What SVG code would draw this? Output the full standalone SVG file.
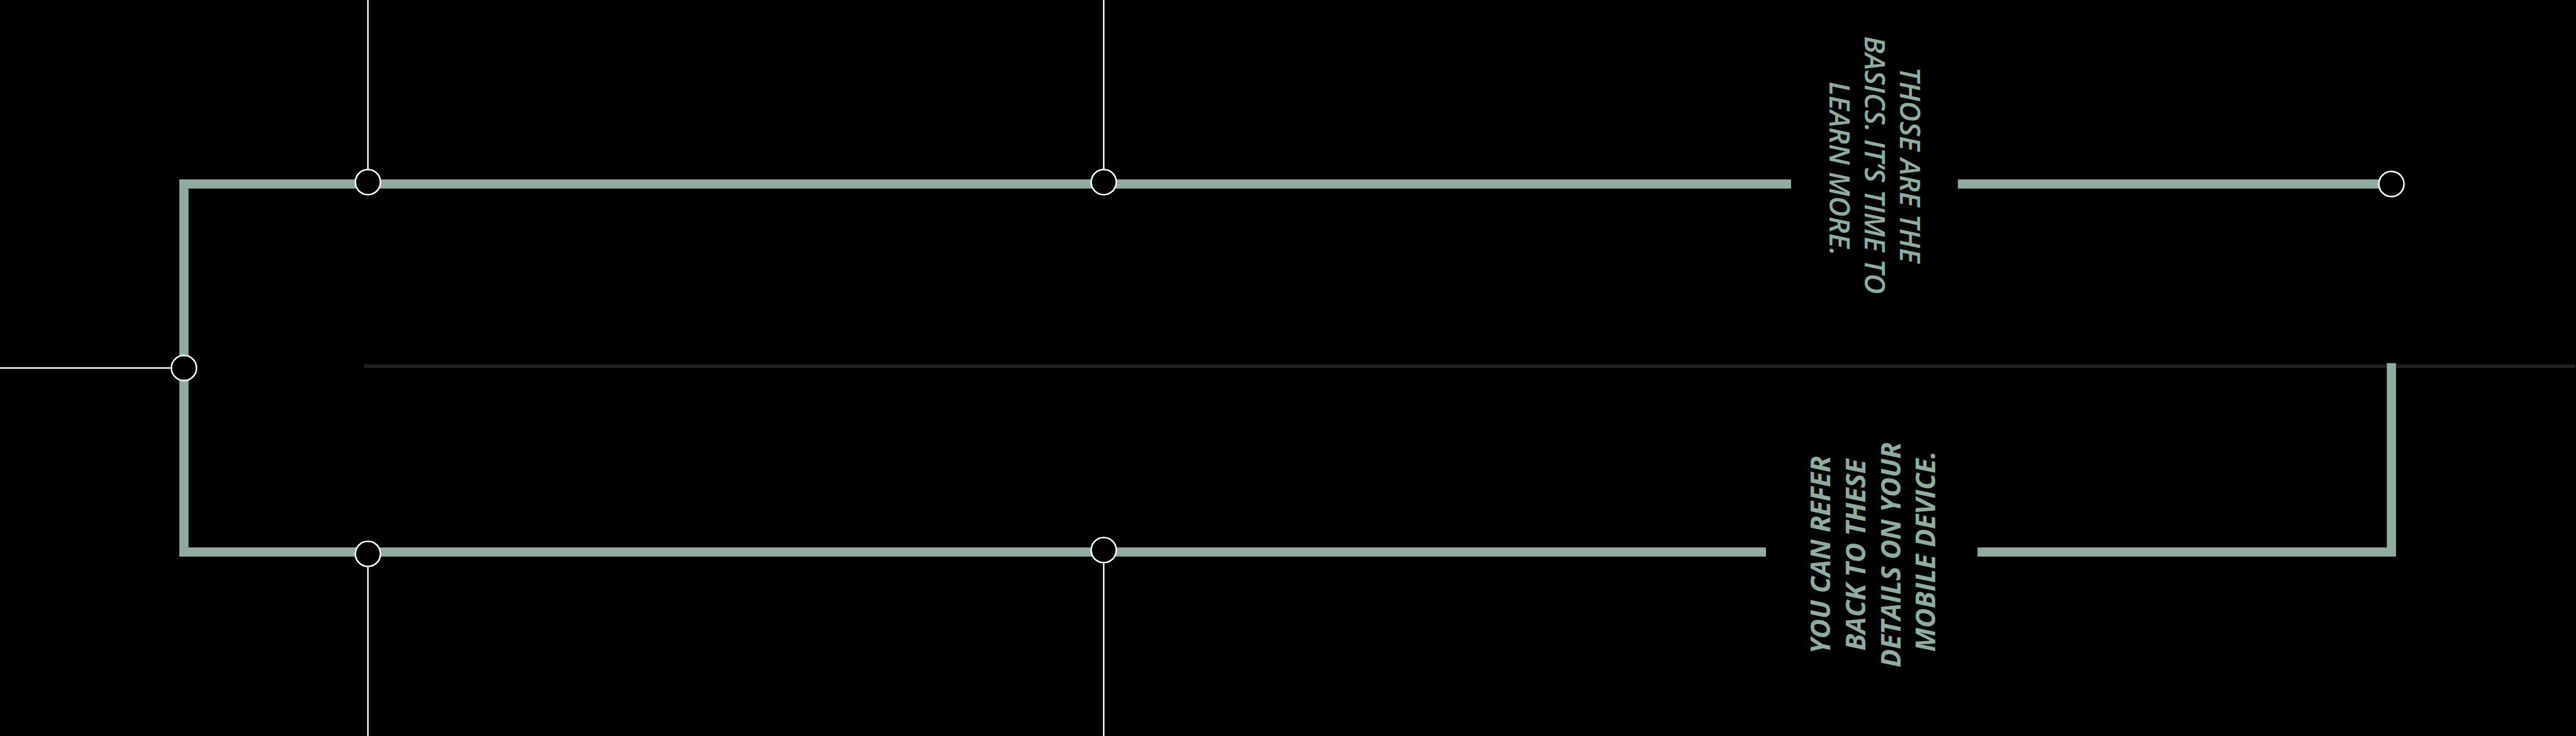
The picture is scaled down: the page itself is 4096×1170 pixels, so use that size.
<svg xmlns="http://www.w3.org/2000/svg" width="4096" height="1170" viewBox="0 0 4096 1170">
  <style>
    .bar { fill: none; stroke: #8fac9f; stroke-width: 15; stroke-linejoin: miter; stroke-linecap: butt; }
    .thin { stroke: #ffffff; stroke-width: 2.5; fill: none; }
    .dot { fill: #000000; stroke: #ffffff; stroke-width: 2.6; }
    .lbl { font-family: "Open Sans", "Noto Sans", sans-serif; font-style: italic; fill: #8fac9f; text-anchor: middle; }
  </style>
  <rect width="4096" height="1170" fill="#000000"/>
  <g transform="scale(0.975)">
    <g id="connectors">
      <line x1="594" y1="597" x2="4200" y2="597" stroke="#1f1f1f" stroke-width="6"/>
      <line class="thin" x1="600" y1="0" x2="600" y2="276"/>
      <line class="thin" x1="1800" y1="0" x2="1800" y2="276"/>
      <line class="thin" x1="600" y1="925" x2="600" y2="1200"/>
      <line class="thin" x1="1800" y1="919" x2="1800" y2="1200"/>
      <line class="thin" x1="0" y1="600" x2="279" y2="600"/>
      <path class="bar" d="M2921 300 H300 V900 H2880"/>
      <path class="bar" d="M3193 300 H3900"/>
      <path class="bar" d="M3225 900 H3900 V592"/>
    </g>
    <g id="node-left"><circle class="dot" cx="300" cy="600" r="20.5"/></g>
    <g id="node-top-1"><circle class="dot" cx="600" cy="297" r="20.5"/></g>
    <g id="node-top-2"><circle class="dot" cx="1800" cy="297" r="20.5"/></g>
    <g id="node-top-3"><circle class="dot" cx="3900" cy="300" r="20.5"/></g>
    <g id="node-bottom-1"><circle class="dot" cx="600" cy="903" r="20.5"/></g>
    <g id="node-bottom-2"><circle class="dot" cx="1800" cy="897" r="20.5"/></g>
    <g id="label-top" transform="translate(3098 275) rotate(90)">
      <text class="lbl" font-size="46" font-weight="600">
        <tspan x="0" y="0">THOSE ARE THE</tspan>
        <tspan x="0" y="57">BASICS. IT’S TIME TO</tspan>
        <tspan x="0" y="114">LEARN MORE.</tspan>
      </text>
    </g>
    <g id="label-bottom" transform="translate(2985 899) rotate(-90)">
      <text class="lbl" font-size="44" font-weight="700">
        <tspan x="0" y="0">YOU CAN REFER</tspan>
        <tspan x="0" y="57">BACK TO THESE</tspan>
        <tspan x="0" y="114">DETAILS ON YOUR</tspan>
        <tspan x="0" y="171">MOBILE DEVICE.</tspan>
      </text>
    </g>
  </g>
</svg>
